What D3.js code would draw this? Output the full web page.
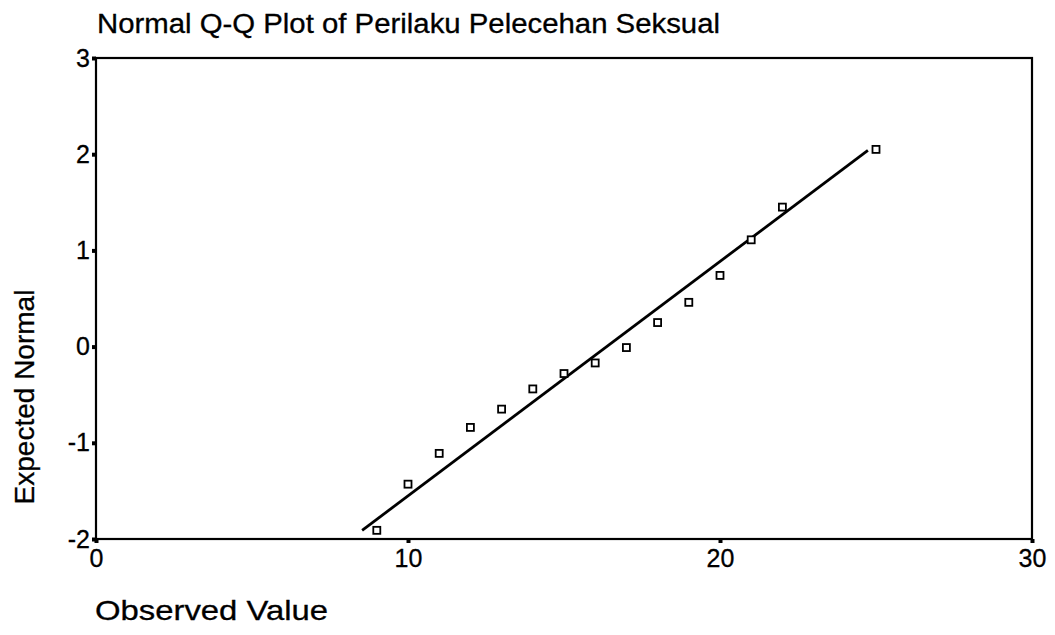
<!DOCTYPE html>
<html>
<head>
<meta charset="utf-8">
<script src="https://cdn.jsdelivr.net/npm/d3@7/dist/d3.min.js"></script>
<style>
  html, body { margin: 0; padding: 0; background: #fff; }
  svg { display: block; }
  text { font-family: "Liberation Sans", Arial, sans-serif; fill: #000; }
</style>
</head>
<body>
<svg id="chart" width="1055" height="635"></svg>
<script>
// ---- data ----
const chartTitle = "Normal Q-Q Plot of Perilaku Pelecehan Seksual";
const xTitle = "Observed Value";
const yTitle = "Expected Normal";
const observedValues = [9, 10, 11, 12, 13, 14, 15, 16, 17, 18, 19, 20, 21, 22, 25];
const expectedNormal = [-1.91, -1.43, -1.11, -0.84, -0.65, -0.44, -0.28, -0.17, -0.01, 0.25, 0.46, 0.74, 1.11, 1.45, 2.05];
const lineX = [8.53, 24.74];
const lineY = [-1.91, 2.04];
const xTicks = [0, 10, 20, 30];
const yTicks = [-2, -1, 0, 1, 2, 3];

// ---- layout ----
const svg = d3.select("#chart");
const plotL = 96, plotR = 1032, plotT = 58, plotB = 539;

const x = d3.scaleLinear().domain([0, 30]).range([plotL, plotR]);
const y = d3.scaleLinear().domain([-2, 3]).range([plotB, plotT]);

// frame
svg.append("rect")
  .attr("x", plotL).attr("y", plotT)
  .attr("width", plotR - plotL).attr("height", plotB - plotT)
  .attr("fill", "none").attr("stroke", "#000").attr("stroke-width", 2.2);

// axes
const xAxis = d3.axisBottom(x).tickValues(xTicks).tickSize(4).tickPadding(6).tickFormat(d3.format("d"));
const gx = svg.append("g").attr("transform", `translate(0,${plotB})`).call(xAxis);
gx.select(".domain").remove();
gx.selectAll(".tick line").attr("stroke", "#000").attr("stroke-width", 4);
gx.selectAll(".tick text").attr("font-size", 25).attr("font-family", "Liberation Sans, Arial, sans-serif")
  .attr("fill", "#000").attr("stroke", "#000").attr("stroke-width", 0.3);

const yAxis = d3.axisLeft(y).tickValues(yTicks).tickSize(4).tickPadding(2).tickFormat(d3.format("d"));
const gy = svg.append("g").attr("transform", `translate(${plotL},0)`).call(yAxis);
gy.select(".domain").remove();
gy.selectAll(".tick line").attr("stroke", "#000").attr("stroke-width", 4);
gy.selectAll(".tick text").attr("font-size", 25).attr("font-family", "Liberation Sans, Arial, sans-serif")
  .attr("fill", "#000").attr("stroke", "#000").attr("stroke-width", 0.3)
  .text(d => d < 0 ? "-" + Math.abs(d) : d);

// fitted line
const lineData = lineX.map((v, i) => [v, lineY[i]]);
svg.append("path")
  .datum(lineData)
  .attr("d", d3.line().x(d => x(d[0])).y(d => y(d[1])))
  .attr("fill", "none").attr("stroke", "#000").attr("stroke-width", 2.8);

// points
const pts = observedValues.map((v, i) => [v, expectedNormal[i]]);
svg.append("g").selectAll("rect").data(pts).enter().append("rect")
  .attr("x", d => x(d[0]) - 3.5).attr("y", d => y(d[1]) - 3.5)
  .attr("width", 7).attr("height", 7)
  .attr("fill", "#fff").attr("stroke", "#000").attr("stroke-width", 1.8);

// titles
svg.append("text")
  .attr("x", 97).attr("y", 33)
  .attr("font-size", 27)
  .attr("stroke", "#000").attr("stroke-width", 0.3)
  .attr("textLength", 623).attr("lengthAdjust", "spacingAndGlyphs")
  .text(chartTitle);

svg.append("text")
  .attr("x", 95).attr("y", 620)
  .attr("font-size", 28)
  .attr("stroke", "#000").attr("stroke-width", 0.3)
  .attr("textLength", 233).attr("lengthAdjust", "spacingAndGlyphs")
  .text(xTitle);

svg.append("text")
  .attr("transform", "translate(34,397) rotate(-90)")
  .attr("text-anchor", "middle")
  .attr("font-size", 28)
  .attr("stroke", "#000").attr("stroke-width", 0.3)
  .text(yTitle);
</script>
</body>
</html>
